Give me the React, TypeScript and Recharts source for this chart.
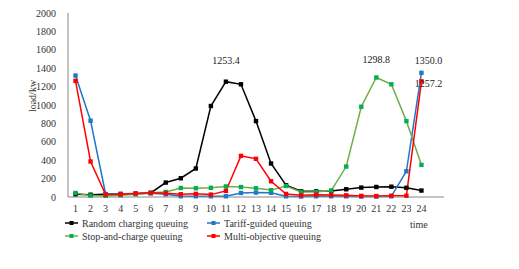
import { LineChart, Line, XAxis, YAxis } from "recharts";

const hours = [1, 2, 3, 4, 5, 6, 7, 8, 9, 10, 11, 12, 13, 14, 15, 16, 17, 18, 19, 20, 21, 22, 23, 24];
const randomQueuing = [30, 25, 30, 32, 35, 44, 157, 204, 310, 989, 1253.4, 1225, 825, 364, 128, 62, 62, 65, 84, 102, 109, 112, 100, 70];
const tariffQueuing = [1320, 829, 33, 35, 38, 40, 30, 8, 8, 8, 8, 44, 48, 46, 8, 5, 8, 8, 8, 5, 5, 8, 280, 1350.0];
const stopChargeQueuing = [44, 15, 12, 18, 30, 45, 55, 98, 95, 100, 115, 108, 95, 75, 120, 55, 55, 70, 331, 981, 1298.8, 1225, 825, 349];
const multiObjQueuing = [1262, 386, 26, 30, 38, 45, 40, 30, 34, 26, 66, 447, 415, 171, 33, 18, 25, 22, 18, 12, 10, 14, 14, 1257.2];
const yTicks = [0, 200, 400, 600, 800, 1000, 1200, 1400, 1600, 1800, 2000];

// which point gets a value label, and nudge from the point
const annotations = [
  { key: "random", hour: 11, text: "1253.4", dx: 0, dy: -21 },
  { key: "stop", hour: 21, text: "1298.8", dx: 0, dy: -18 },
  { key: "tariff", hour: 24, text: "1350.0", dx: 7, dy: -12 },
  { key: "multi", hour: 24, text: "1257.2", dx: 7, dy: 2 },
];

const series = [
  { key: "random", name: "Random charging queuing", line: "#000000", marker: "#000000" },
  { key: "tariff", name: "Tariff-guided queuing", line: "#1f78c8", marker: "#1f78c8" },
  { key: "stop", name: "Stop-and-charge queuing", line: "#70ad47", marker: "#00b050" },
  { key: "multi", name: "Multi-objective queuing", line: "#ff0000", marker: "#ff0000" },
];

const data = hours.map((h, i) => ({
  hour: h,
  random: randomQueuing[i],
  tariff: tariffQueuing[i],
  stop: stopChargeQueuing[i],
  multi: multiObjQueuing[i],
}));

const FONT = "'Liberation Serif', 'Times New Roman', serif";

function squareDot(color: string) {
  return (props: any) => {
    const { cx, cy, index } = props;
    if (cx == null || cy == null) return <g key={index} />;
    return <rect key={index} x={cx - 2.2} y={cy - 2.2} width={4.4} height={4.4} fill={color} />;
  };
}

function valueLabel(key: string) {
  return (props: any) => {
    const { x, y, index } = props;
    const a = annotations.find((n) => n.key === key && n.hour === hours[index]);
    if (!a) return <g key={index} />;
    return (
      <text key={index} x={x + a.dx} y={y + a.dy} dy="0.35em" textAnchor="middle" fontSize={10} fill="#222" fontFamily={FONT}>
        {a.text}
      </text>
    );
  };
}

export default function App() {
  return (
    <div style={{ position: "fixed", left: 0, top: 0, width: 519, height: 269, background: "#fff", fontFamily: FONT }}>
      <LineChart width={519} height={269} data={data} margin={{ top: 13, right: 75, bottom: 0, left: 0 }}>
        <XAxis
          dataKey="hour"
          type="number"
          domain={[0.5, 25.5]}
          ticks={hours}
          interval={0}
          height={72}
          tickLine={false}
          axisLine={{ stroke: "#888888" }}
          tick={{ fontSize: 10, fill: "#333", fontFamily: FONT }}
          tickMargin={2}
        />
        <YAxis
          domain={[0, 2000]}
          ticks={yTicks}
          width={68}
          tickLine={false}
          axisLine={{ stroke: "#888888" }}
          tick={{ fontSize: 10, fill: "#333", fontFamily: FONT }}
          tickMargin={6}
          label={{
            content: () => (
              <text x={32} y={96} transform="rotate(-90, 32, 96)" textAnchor="middle" dy="0.35em" fontSize={10} fill="#333" fontFamily={FONT}>
                load/kw
              </text>
            ),
          }}
        />
        {series.map((s) => (
          <Line
            key={s.key}
            dataKey={s.key}
            name={s.name}
            stroke={s.line}
            strokeWidth={1.5}
            dot={squareDot(s.marker)}
            activeDot={false}
            label={valueLabel(s.key)}
            isAnimationActive={false}
          />
        ))}
      </LineChart>
      <div style={{ position: "absolute", left: 0, top: 0, width: 519, height: 269, pointerEvents: "none", fontSize: 10, color: "#333" }}>
        {series.map((s, i) => {
          const col = i % 2;
          const row = Math.floor(i / 2);
          const left = col === 0 ? 65 : 207;
          const top = row === 0 ? 217 : 230;
          return (
            <div key={s.key} style={{ position: "absolute", left, top, height: 12, display: "flex", alignItems: "center", whiteSpace: "nowrap" }}>
              <svg width={14} height={12} style={{ marginRight: 3 }}>
                <line x1={0} y1={6} x2={13} y2={6} stroke={s.line} strokeWidth={1.5} />
                <rect x={4.5} y={4} width={4} height={4} fill={s.marker} />
              </svg>
              <span>{s.name}</span>
            </div>
          );
        })}
        <div style={{ position: "absolute", left: 410, top: 219, lineHeight: "12px" }}>time</div>
      </div>
    </div>
  );
}
